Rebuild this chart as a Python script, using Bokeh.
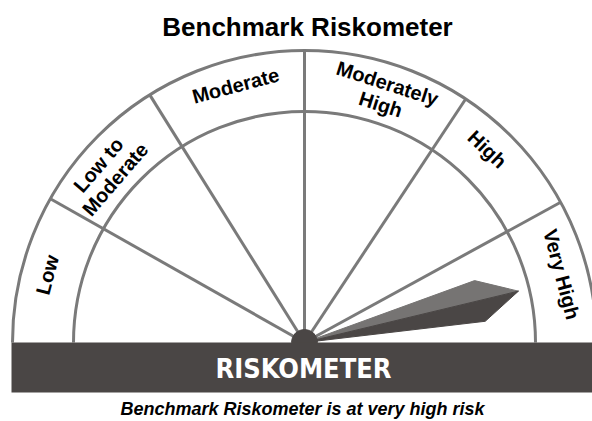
import math
from bokeh.plotting import figure
from bokeh.models import ColumnDataSource, Range1d
from bokeh.core.properties import value
from bokeh.embed import file_html
from bokeh.resources import INLINE

# ---------------- data ----------------
title_text = "Benchmark Riskometer"
subtitle_text = "Benchmark Riskometer is at very high risk"
bar_text = "RISKOMETER"
risk_levels = ["Low", "Low to Moderate", "Moderate", "Moderately High", "High", "Very High"]
label_lines = [["Low"], ["Low to", "Moderate"], ["Moderate"], ["Moderately", "High"], ["High"], ["Very High"]]
boundary_deg = [180, 150.5, 122, 90, 56.5, 28.7, 0]
needle_deg = 13.5   # pointer position (Very High)

# ---------------- layout / style ----------------
W, H = 592, 421
CX, CY = 304, 79          # gauge centre (data units = pixels)
R_OUT, R_IN = 292, 231
LINE_COL = "#7a7a7a"
DARK = "#4a4645"
NEEDLE_LIGHT = "#767473"
FONT = "Liberation Sans"
LABEL_SHIFT = [0, 3, -1, -1, 4, 0.5]   # small angular placement tweaks (deg)

p = figure(width=W, height=H, output_backend="svg", toolbar_location=None,
           x_axis_type=None, y_axis_type=None, min_border=0,
           x_range=Range1d(0, W), y_range=Range1d(0, H))
p.grid.visible = False
p.outline_line_color = None
p.background_fill_color = "white"
p.border_fill_color = "white"

def pol(r, deg):
    a = math.radians(deg)
    return CX + r * math.cos(a), CY + r * math.sin(a)

# arcs
p.arc(x=[CX, CX], y=[CY, CY], radius=[R_OUT, R_IN], start_angle=0, end_angle=math.pi,
      line_color=LINE_COL, line_width=3)

# dividers
xs0, ys0, xs1, ys1 = [], [], [], []
for d in boundary_deg[1:-1]:
    x1, y1 = pol(R_OUT, d)
    xs0.append(CX); ys0.append(CY); xs1.append(x1); ys1.append(y1)
p.segment(x0=xs0, y0=ys0, x1=xs1, y1=ys1, line_color=LINE_COL, line_width=3)

# needle
tip = pol(220, needle_deg)
up = pol(181, needle_deg + 6.5)
lo = pol(182, needle_deg - 6.8)
p.patches(xs=[[CX, up[0], tip[0]], [CX, tip[0], lo[0]]],
          ys=[[CY, up[1], tip[1]], [CY, tip[1], lo[1]]],
          fill_color=[NEEDLE_LIGHT, DARK], line_color=[NEEDLE_LIGHT, DARK], line_width=1)

# hub
p.wedge(x=[CX], y=[CY], radius=13, start_angle=0, end_angle=math.pi,
        fill_color=DARK, line_color=DARK)

# bar
p.quad(left=[11], right=[600], bottom=[421 - 392], top=[421 - 342],
       fill_color=DARK, line_color=None)
p.text(x=[CX - 1], y=[421 - 368], text=[bar_text], text_color="white",
       text_font=value("'DejaVu Sans Condensed', Roboto, sans-serif"), text_font_size=value("27px"),
       text_font_style="bold", text_align="center", text_baseline="middle")

# segment labels
lx, ly, lt, la = [], [], [], []
for i, lines in enumerate(label_lines):
    mid = (boundary_deg[i] + boundary_deg[i + 1]) / 2 + LABEL_SHIFT[i]
    radii = [266] if len(lines) == 1 else [272, 250]
    for ln, r in zip(lines, radii):
        x, y = pol(r, mid)
        lx.append(x); ly.append(y); lt.append(ln); la.append(math.radians(mid - 90))
src = ColumnDataSource(dict(x=lx, y=ly, text=lt, angle=la))
p.text(x="x", y="y", text="text", angle="angle", source=src, text_color="black",
       text_font=value(FONT), text_font_size=value("20px"), text_font_style="bold",
       text_align="center", text_baseline="middle")

# title & subtitle
p.text(x=[307], y=[421 - 26], text=[title_text], text_color="black",
       text_font=value(FONT), text_font_size=value("26px"), text_font_style="bold",
       text_align="center", text_baseline="middle")
p.text(x=[302], y=[421 - 408], text=[subtitle_text], text_color="black",
       text_font=value(FONT), text_font_size=value("18px"), text_font_style="bold italic",
       text_align="center", text_baseline="middle")

open("out.html", "w").write(file_html(p, INLINE))
